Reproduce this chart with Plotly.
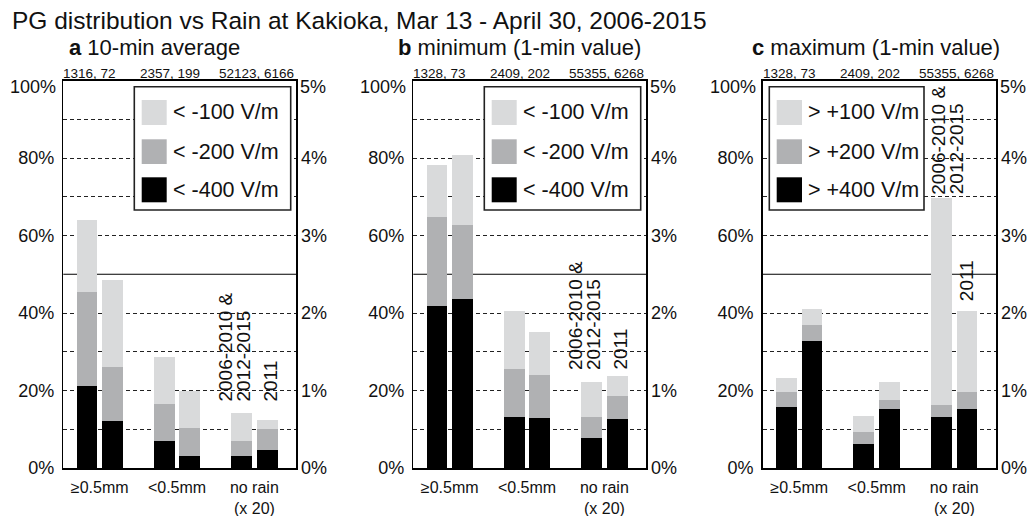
import plotly.graph_objects as go

# ---------------- data ----------------
categories = ["≥0.5mm", "<0.5mm", "no rain"]
scale_note = "(x 20)"
period_labels = ["2006-2010 &", "2012-2015", "2011"]
title_text = "PG distribution vs Rain at Kakioka, Mar 13 - April 30, 2006-2015"
panel_letters = ["a", "b", "c"]
panel_names = ["10-min average", "minimum (1-min value)", "maximum (1-min value)"]

counts_a = ["1316, 72", "2357, 199", "52123, 6166"]
counts_b = ["1328, 73", "2409, 202", "55355, 6268"]
counts_c = ["1328, 73", "2409, 202", "55355, 6268"]

legend_neg = ["< -100 V/m", "< -200 V/m", "< -400 V/m"]
legend_pos = ["> +100 V/m", "> +200 V/m", "> +400 V/m"]

left_tickvals = [0, 20, 40, 60, 80, 100]
left_ticktext = ["0%", "20%", "40%", "60%", "80%", "100%"]
right_tickvals = [0, 1, 2, 3, 4, 5]
right_ticktext = ["0%", "1%", "2%", "3%", "4%", "5%"]

# rain classes (left axis, %): [>=0.5mm 2006-10&12-15, >=0.5mm 2011, <0.5mm 2006-10&12-15, <0.5mm 2011]
# no rain (right axis, %): [2006-10&12-15, 2011]
a_100_rain = [63.9, 48.6, 28.7, 19.9]
a_200_rain = [45.5, 26.1, 16.5, 10.3]
a_400_rain = [21.2, 12.1, 7.0, 3.1]
a_100_norain = [0.71, 0.62]
a_200_norain = [0.35, 0.505]
a_400_norain = [0.155, 0.235]

b_100_rain = [78.3, 80.9, 40.6, 35.1]
b_200_rain = [64.7, 62.8, 25.6, 24.0]
b_400_rain = [41.9, 43.7, 13.2, 12.9]
b_100_norain = [1.11, 1.19]
b_200_norain = [0.66, 0.93]
b_400_norain = [0.39, 0.63]

c_100_rain = [23.3, 41.1, 13.4, 22.2]
c_200_rain = [19.6, 37.0, 9.3, 17.6]
c_400_rain = [15.8, 32.8, 6.2, 15.2]
c_100_norain = [3.48, 2.03]
c_200_norain = [0.81, 0.98]
c_400_norain = [0.66, 0.76]

# ---------------- styling / layout ----------------
W, H = 1030, 516
FONT = "Arial, Liberation Sans, Helvetica, sans-serif"
colors = ["#d9dadb", "#b0b1b3", "#000000"]
panel_px = [(63.3, 296.0), (413.3, 646.0), (762.7, 996.0)]
y_top_px, y_bot_px = 80.5, 468.0
xr = [0.529, 3.539]
off, bw = 0.165, 0.27
TXT = "#111"


def px(x):
    return x / W


def py(y):
    return 1 - y / H


panels = [
    dict(rain=[a_100_rain, a_200_rain, a_400_rain], norain=[a_100_norain, a_200_norain, a_400_norain],
         counts=counts_a, legend=legend_neg, leg="right", sub_x=67,
         lab_bar=[0, 0, 0], lab_dx=[-16.5, 1.5, 3.0], lab_dy=[9, 9, 9]),
    dict(rain=[b_100_rain, b_200_rain, b_400_rain], norain=[b_100_norain, b_200_norain, b_400_norain],
         counts=counts_b, legend=legend_neg, leg="right", sub_x=396,
         lab_bar=[0, 0, 0], lab_dx=[-16.0, 2.0, 3.0], lab_dy=[10, 10, 10]),
    dict(rain=[c_100_rain, c_200_rain, c_400_rain], norain=[c_100_norain, c_200_norain, c_400_norain],
         counts=counts_c, legend=legend_pos, leg="left", sub_x=750,
         lab_bar=[0, 0, 1], lab_dx=[-2.5, 15.0, -1.0], lab_dy=[2, 2, 7]),
]

fig = go.Figure()
shapes = []
annotations = []
layout = {}

for i, p in enumerate(panels):
    xa = "x" if i == 0 else f"x{i + 1}"
    yl = f"y{2 * i + 1}" if i > 0 else "y"
    yr = f"y{2 * i + 2}"
    xa_key = "xaxis" if i == 0 else f"xaxis{i + 1}"
    yl_key = "yaxis" if i == 0 else f"yaxis{2 * i + 1}"
    yr_key = f"yaxis{2 * i + 2}"
    L, R = panel_px[i]

    rain_x = [g + s for g in (1, 2) for s in (-off, off)]
    norain_x = [3 - off, 3 + off]
    for k in range(3):
        fig.add_trace(go.Bar(x=rain_x, y=p["rain"][k], width=bw, xaxis=xa, yaxis=yl,
                             marker=dict(color=colors[k], line=dict(width=0)),
                             showlegend=False, hoverinfo="skip"))
        fig.add_trace(go.Bar(x=norain_x, y=p["norain"][k], width=bw, xaxis=xa, yaxis=yr,
                             marker=dict(color=colors[k], line=dict(width=0)),
                             showlegend=False, hoverinfo="skip"))

    layout[xa_key] = dict(domain=[px(L), px(R)], range=xr, anchor=yl, automargin=False,
                          showline=True, mirror=True, linecolor="#000", linewidth=1.5,
                          showgrid=False, zeroline=False, ticks="",
                          tickvals=[1, 2, 3], ticktext=categories,
                          tickfont=dict(family=FONT, size=16, color=TXT),
                          ticklabelstandoff=4, fixedrange=True)
    # the top labels (100% / 5%) sit a little below the frame -> drawn as annotations
    layout[yl_key] = dict(domain=[py(y_bot_px), py(y_top_px)], range=[0, 100], anchor=xa,
                          automargin=False,
                          showline=True, linecolor="#000", linewidth=1.5,
                          tickvals=left_tickvals[:-1], ticktext=left_ticktext[:-1], ticks="",
                          tickfont=dict(family=FONT, size=18, color=TXT),
                          showgrid=True, gridcolor="#222", gridwidth=1, griddash="4px,3px",
                          zeroline=False, ticklabelstandoff=4,
                          minor=dict(tickvals=[10, 30, 70, 90], showgrid=True, gridcolor="#222",
                                     gridwidth=1, griddash="4px,3px", ticks=""),
                          fixedrange=True)
    layout[yr_key] = dict(range=[0, 5], overlaying=yl, side="right", anchor=xa, automargin=False,
                          showline=True, linecolor="#000", linewidth=1.5,
                          tickvals=right_tickvals[:-1], ticktext=right_ticktext[:-1], ticks="",
                          tickfont=dict(family=FONT, size=18, color=TXT),
                          showgrid=False, zeroline=False, ticklabelstandoff=0, fixedrange=True)

    annotations.append(dict(text=left_ticktext[-1], xref=f"{xa} domain", yref=yl, x=0,
                            y=left_tickvals[-1], xshift=-5, yshift=-6.5, xanchor="right",
                            yanchor="middle", showarrow=False,
                            font=dict(family=FONT, size=18, color=TXT)))
    annotations.append(dict(text=right_ticktext[-1], xref=f"{xa} domain", yref=yr, x=1,
                            y=right_tickvals[-1], xshift=2, yshift=-6.5, xanchor="left",
                            yanchor="middle", showarrow=False,
                            font=dict(family=FONT, size=18, color=TXT)))

    # solid 50% line
    shapes.append(dict(type="line", xref=f"{xa} domain", yref=yl, x0=0, x1=1, y0=50, y1=50,
                       line=dict(color="#000", width=1.2), layer="below"))

    # scale note under "no rain"
    annotations.append(dict(text=scale_note, xref=xa, yref="paper", x=3, y=py(508),
                            xanchor="center", yanchor="middle", showarrow=False,
                            font=dict(family=FONT, size=16, color=TXT)))

    # counts above each group
    for g, (txt, dx) in enumerate(zip(p["counts"], [-10, -7, 2.5])):
        annotations.append(dict(text=txt, xref=xa, yref="paper", x=g + 1, y=py(73.3),
                                xshift=dx, xanchor="center", yanchor="middle", showarrow=False,
                                font=dict(family=FONT, size=13.5, color=TXT)))

    # panel subtitle
    annotations.append(dict(text=f"<b>{panel_letters[i]}</b> {panel_names[i]}", xref="paper",
                            yref="paper", x=px(p["sub_x"]), y=py(48), xanchor="left",
                            yanchor="middle", showarrow=False,
                            font=dict(family=FONT, size=22, color=TXT)))

    # legend box
    if p["leg"] == "right":
        bx0, bx1, sx0, sx1, tx = L + 71, L + 227.4, L + 78.4, L + 103.4, L + 107.5
    else:
        bx0, bx1, sx0, sx1, tx = L + 6.6, L + 161.3, L + 14.0, L + 39.3, L + 43.5
    shapes.append(dict(type="rect", xref="paper", yref="paper", x0=px(bx0), x1=px(bx1),
                       y0=py(210), y1=py(86.7), line=dict(color="#222", width=1.6),
                       fillcolor="white", layer="above"))
    for k, (sy0, sy1) in enumerate([(100, 125), (139.3, 164), (177.3, 202.3)]):
        shapes.append(dict(type="rect", xref="paper", yref="paper", x0=px(sx0), x1=px(sx1),
                           y0=py(sy1), y1=py(sy0), line=dict(width=0), fillcolor=colors[k],
                           layer="above"))
        annotations.append(dict(text=p["legend"][k], xref="paper", yref="paper", x=px(tx),
                                y=py((sy0 + sy1) / 2), xanchor="left", yanchor="middle",
                                showarrow=False, font=dict(family=FONT, size=21.5, color=TXT)))

    # rotated period labels above the no-rain bars
    lab_x = [3 - off, 3 - off, 3 + off]
    for t, xx, bi, dx, dy in zip(period_labels, lab_x, p["lab_bar"], p["lab_dx"], p["lab_dy"]):
        annotations.append(dict(text=t, xref=xa, yref=yr, x=xx, y=p["norain"][0][bi],
                                xshift=dx, yshift=dy,
                                textangle=-90, xanchor="center", yanchor="bottom", showarrow=False,
                                font=dict(family=FONT, size=19, color=TXT)))

annotations.append(dict(text=title_text, xref="paper", yref="paper", x=px(10), y=py(20.5),
                        xanchor="left", yanchor="middle", showarrow=False,
                        font=dict(family=FONT, size=24.5, color=TXT)))

fig.update_layout(**layout)
fig.update_layout(template="none", width=W, height=H, margin=dict(l=0, r=0, t=0, b=0),
                  paper_bgcolor="white", plot_bgcolor="white", barmode="overlay",
                  bargap=0, showlegend=False, shapes=shapes, annotations=annotations,
                  font=dict(family=FONT, color=TXT))

fig.write_html("out.html", config={"displayModeBar": False, "staticPlot": True},
               post_script="document.body.style.margin='0';document.body.style.overflow='hidden';")
